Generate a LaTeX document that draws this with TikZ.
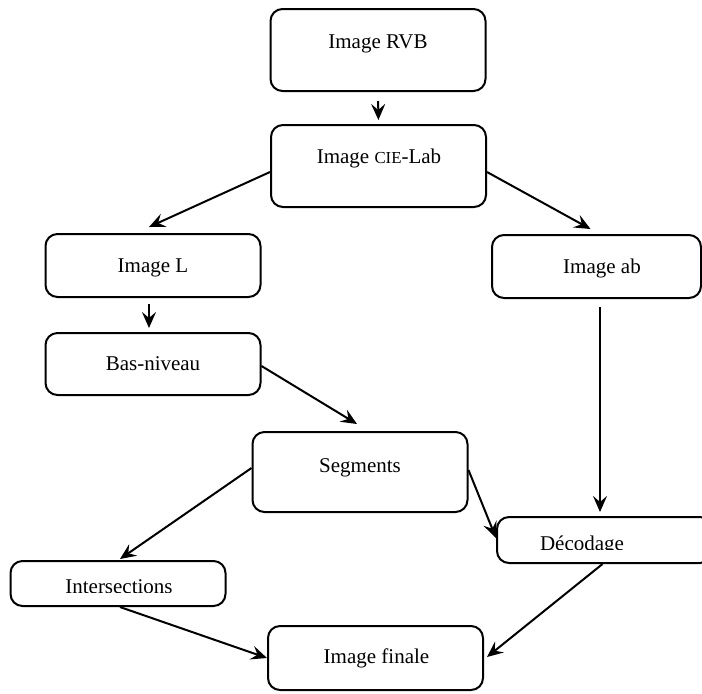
\documentclass[tikz,border=0pt]{standalone}
\usepackage{fontspec}
\setmainfont{Liberation Serif}
\usepackage{tikz}
\usetikzlibrary{arrows.meta}
\usetikzlibrary{calc}

\begin{document}
\begin{tikzpicture}[x=0.5pt,y=-0.5pt,
    box/.style={draw, line width=1pt, rounded corners=6pt, minimum width=107.5pt, inner sep=0pt},
    lbl/.style={anchor=base, inner sep=0pt, font=\fontsize{10.5}{12}\selectfont},
    flow/.style={-{Stealth[length=8pt,width=7pt,inset=3pt]}, line width=1pt}]
      \clip (0,0) rectangle (702,693);
      % boxes
      \node[box, minimum height=41pt]   (rvb)   at (378,50)      {};
      \node[box, minimum height=41pt]   (cie)   at (378.5,166)   {};
      \node[box, minimum height=31.5pt] (imgl)  at (153,265.5)   {};
      \node[box, minimum height=31pt]   (bas)   at (153,364)     {};
      \node[box, minimum height=31.5pt, minimum width=104.5pt] (ab) at (596.5,266.5) {};
      \node[box, minimum height=40pt]   (seg)   at (360,472)     {};
      \node[box, minimum height=23pt]   (dec)   at (604.5,540)   {};
      \node[box, minimum height=22.5pt] (inter) at (118,583.5)   {};
      \node[box, minimum height=32pt]   (fin)   at (375.5,658)   {};
      % texts
      \node[lbl] (rvbtxt)  at (378,48)    {Image RVB};
      \node[lbl] (cietxt)  at (379,163)   {Image {\fontsize{8.4}{10}\selectfont CIE}-Lab};
      \node[lbl] (imgltxt) at (153,272)   {Image L};
      \node[lbl] (bastxt)  at (153,370)   {Bas-niveau};
      \node[lbl] (abtxt)   at (602,273)   {Image ab};
      \node[lbl] (segtxt)  at (360,472)   {Segments};
      \begin{scope}
        \clip (480,500) rectangle (702,549);
        \node[lbl] (dectxt) at (582,550) {Décodage};
      \end{scope}
      \begin{scope}
        \clip (0,560) rectangle (240,592);
        \node[lbl] (intertxt) at (119,593) {Intersections};
      \end{scope}
      \node[lbl] (fintxt)  at (376.5,663) {Image finale};
      % connectors
      \draw[flow, shorten <=4.5pt, shorten >=2pt] (rvb.south) -- (cie.north);
      \draw[flow] ([yshift=-3pt]cie.west) -- ([xshift=-2pt,yshift=3pt]imgl.north);
      \draw[flow] ([yshift=-3pt]cie.east) -- ([xshift=-3pt,yshift=2.5pt]ab.north);
      \draw[flow, shorten <=3pt, shorten >=2pt] ([xshift=-2pt]imgl.south) -- ([xshift=-2pt]bas.north);
      \draw[flow] ([yshift=-1pt]bas.east) -- ([xshift=-1.5pt,yshift=3.5pt]seg.north);
      \draw[flow, shorten <=4pt, shorten >=2pt] ([xshift=1.75pt]ab.south) -- ([xshift=1.75pt]ab.south |- dec.north);
      \draw[flow] ([yshift=2pt]seg.west) -- ([xshift=1pt,yshift=0.5pt]inter.north);
      \draw[flow] ([yshift=1pt]seg.east) -- ([yshift=1pt]dec.west);
      \draw[flow] ([xshift=-1pt]dec.south) -- ([xshift=1.5pt,yshift=0.5pt]fin.east);
      \draw[flow] ([xshift=1pt]inter.south) -- (fin.west);
    \end{tikzpicture}
\end{document}
